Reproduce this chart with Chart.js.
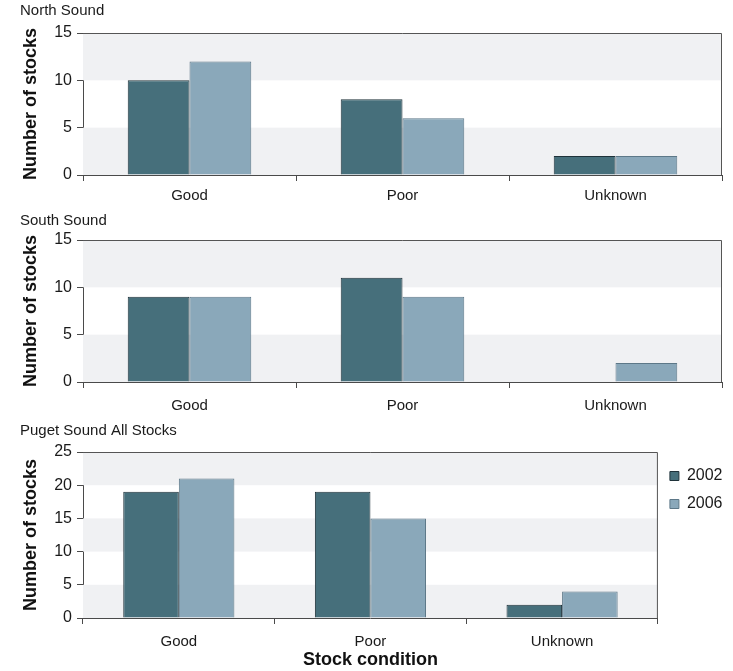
<!DOCTYPE html>
<html>
<head>
<meta charset="utf-8">
<script src="https://cdn.jsdelivr.net/npm/chart.js"></script>
<style>
  body { margin: 0; background: #fff; overflow: hidden; }
  #wrap { position: relative; width: 733px; height: 671px; overflow: hidden; }
  canvas { position: absolute; left: 0; }
</style>
</head>
<body>
<div id="wrap">
  <canvas id="northChart" width="733" height="208" style="top:0"></canvas>
  <canvas id="southChart" width="733" height="208" style="top:208px"></canvas>
  <canvas id="pugetChart" width="733" height="255" style="top:416px"></canvas>
</div>
<script>
// Stock condition by region, 2002 vs 2006
const categories = ['Good', 'Poor', 'Unknown'];
const seriesNames = ['2002', '2006'];

const north2002 = [10, 8, 2];
const north2006 = [12, 6, 2];
const south2002 = [9, 11, 0];
const south2006 = [9, 9, 2];
const puget2002 = [19, 19, 2];
const puget2006 = [21, 15, 4];

const FONT = "'Liberation Sans', Arial, sans-serif";
const TEXT = '#1a1a1a';
const AXIS = '#4a4a4a';

// alternating grey bands between y ticks + top/right frame
const bandsPlugin = {
    id: 'bands',
    beforeDatasetsDraw(chart) {
        const { ctx, chartArea: a, scales: { y } } = chart;
        const step = y.options.ticks.stepSize;
        ctx.save();
        ctx.fillStyle = '#f0f1f3';
        for (let v = y.min, i = 0; v < y.max; v += step, i++) {
            if (i % 2 !== 0) continue;
            const top = y.getPixelForValue(v + step);
            const bot = y.getPixelForValue(v);
            ctx.fillRect(a.left, top, a.right - a.left, bot - top);
        }
        ctx.strokeStyle = '#555';
        ctx.lineWidth = 1;
        ctx.beginPath();
        ctx.moveTo(a.left, a.top + 0.5);
        ctx.lineTo(a.right - 0.5, a.top + 0.5);
        ctx.lineTo(a.right - 0.5, a.bottom);
        ctx.stroke();
        ctx.restore();
    }
};

function makeChart(id, title, d1, d2, cfg) {
    const ctx = document.getElementById(id).getContext('2d');
    return new Chart(ctx, {
        type: 'bar',
        data: {
            labels: categories,
            datasets: [{
                label: seriesNames[0],
                data: d1,
                backgroundColor: '#466f7b',
                borderColor: '#1f323a',
                borderWidth: 1
            }, {
                label: seriesNames[1],
                data: d2,
                backgroundColor: '#8aa8ba',
                borderColor: '#5d7888',
                borderWidth: 1
            }]
        },
        options: {
            responsive: false,
            animation: false,
            categoryPercentage: 0.58,
            barPercentage: 1,
            layout: { padding: { left: 20, right: cfg.padRight, top: cfg.padTop, bottom: 0 } },
            plugins: {
                title: {
                    display: true,
                    text: title,
                    align: 'start',
                    color: TEXT,
                    font: { family: FONT, size: 15, weight: 'normal' },
                    padding: { top: 0, bottom: cfg.titleGap }
                },
                legend: cfg.legend ? {
                    display: true,
                    position: 'right',
                    align: 'start',
                    title: {
                        display: true,
                        text: '',
                        font: { size: 10 },
                        padding: { top: 0, bottom: 22 }
                    },
                    labels: {
                        boxWidth: 9,
                        boxHeight: 9,
                        padding: 12,
                        color: TEXT,
                        font: { family: FONT, size: 16 }
                    }
                } : { display: false },
                tooltip: { enabled: false }
            },
            scales: {
                x: {
                    grid: { offset: true, drawOnChartArea: false, tickLength: 6, color: AXIS },
                    border: { color: AXIS, width: 1 },
                    ticks: { color: TEXT, font: { family: FONT, size: 15 }, padding: cfg.xPad },
                    title: cfg.xTitle ? {
                        display: true,
                        text: 'Stock condition',
                        color: '#111',
                        font: { family: FONT, size: 18, weight: 'bold' },
                        padding: { top: 0, bottom: 0 }
                    } : { display: false },
                    afterFit(scale) { scale.height = cfg.xHeight; }
                },
                y: {
                    min: 0,
                    max: cfg.yMax,
                    grid: { drawOnChartArea: false, tickLength: 6, color: AXIS },
                    border: { color: AXIS, width: 1 },
                    ticks: { stepSize: 5, color: TEXT, font: { family: FONT, size: 16 }, padding: 5 },
                    title: {
                        display: true,
                        text: 'Number of stocks',
                        color: '#111',
                        font: { family: FONT, size: 18, weight: 'bold' },
                        padding: 0
                    },
                    afterFit(scale) { scale.width = 63; }
                }
            }
        },
        plugins: [bandsPlugin]
    });
}

makeChart('northChart', 'North Sound', north2002, north2006,
    { yMax: 15, padTop: 2, titleGap: 13, padRight: 11, xHeight: 33, xPad: 6, legend: false, xTitle: false });
makeChart('southChart', 'South Sound', south2002, south2006,
    { yMax: 15, padTop: 4, titleGap: 10, padRight: 11, xHeight: 34, xPad: 9, legend: false, xTitle: false });
makeChart('pugetChart', 'Puget Sound All Stocks', puget2002, puget2006,
    { yMax: 25, padTop: 6, titleGap: 12, padRight: 0.5, xHeight: 53, xPad: 9, legend: true, xTitle: true });
</script>
</body>
</html>
